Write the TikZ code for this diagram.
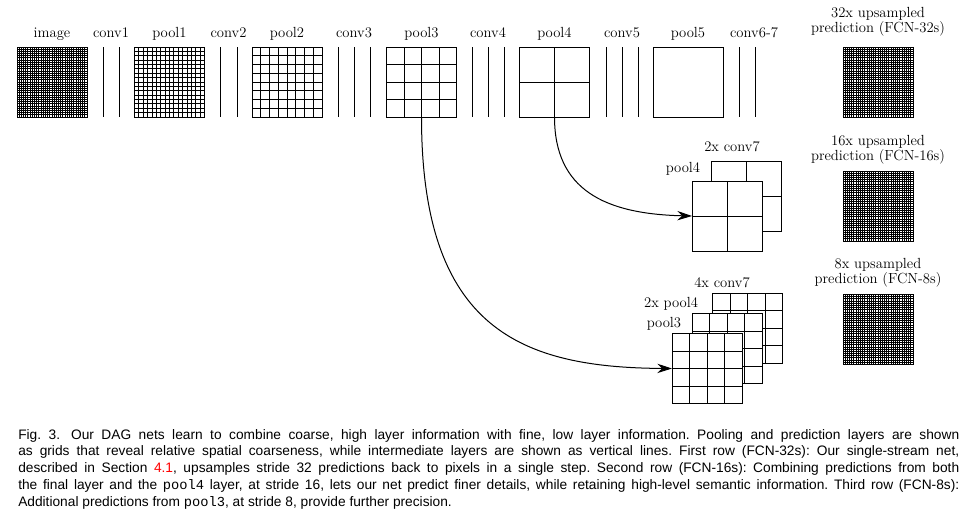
\documentclass[tikz,border=0pt]{standalone}
\usepackage{fontspec}
\setsansfont{Liberation Sans}
\setmonofont{Liberation Mono}
\usepackage{xcolor}
\usetikzlibrary{calc,arrows.meta}
\newcommand\layersize{52.5pt}

% grid lines inside a layer node: [style]{node}{cells}
\newcommand\gridlines[3][gridline]{%
  \pgfmathtruncatemacro\lastk{#3-1}%
  \foreach \k in {1,...,\lastk}{%
    \draw[#1] ($(#2.north west)!\k/#3!(#2.north east)$) -- ($(#2.south west)!\k/#3!(#2.south east)$);
    \draw[#1] ($(#2.north west)!\k/#3!(#2.south west)$) -- ($(#2.north east)!\k/#3!(#2.south east)$);
  }}

\tikzset{
  layer/.style={draw, line width=0.75pt, fill=white, inner sep=0pt, outer sep=0pt, minimum size=\layersize},
  gridline/.style={line width=0.6pt},
  denseline/.style={line width=0.75pt},
  convline/.style={line width=0.75pt},
  lbl/.style={anchor=base, inner sep=0pt, font=\fontsize{11}{11}\selectfont},
  skiparrow/.style={line width=0.75pt, -{Stealth[length=11pt,width=7pt]}},
}

\begin{document}
\begin{tikzpicture}[x=0.75pt, y=-0.75pt]
        \useasboundingbox (0,0) rectangle (970,512);

        % first row
        \node[layer] (image) at (52, 82) {};
        \node[layer] (pool1) at (169.5, 82) {};
        \node[layer] (pool2) at (287, 82) {};
        \node[layer] (pool3) at (421.5, 82) {};
        \node[layer] (pool4) at (554.5, 82) {};
        \node[layer] (pool5) at (688, 82) {};
        \node[layer] (out32) at (878, 82) {};
        \gridlines[denseline]{image}{32}
        \gridlines{pool1}{16}
        \gridlines{pool2}{8}
        \gridlines{pool3}{4}
        \gridlines{pool4}{2}
        \gridlines[denseline]{out32}{32}
        \foreach \x in {103,119, 220,237, 338,354,370, 472,488,504, 606,622,638, 739,755}
            \draw[convline] (\x, 47) -- (\x, 117);

        \node[lbl] (limage) at (52, 37.5) {image};
        \node[lbl] (lconv1) at (111, 37.5) {conv1};
        \node[lbl] (lpool1) at (169.5, 37.5) {pool1};
        \node[lbl] (lconv2) at (228.5, 37.5) {conv2};
        \node[lbl] (lpool2) at (287, 37.5) {pool2};
        \node[lbl] (lconv3) at (354, 37.5) {conv3};
        \node[lbl] (lpool3) at (421.5, 37.5) {pool3};
        \node[lbl] (lconv4) at (488, 37.5) {conv4};
        \node[lbl] (lpool4) at (554.5, 37.5) {pool4};
        \node[lbl] (lconv5) at (622, 37.5) {conv5};
        \node[lbl] (lpool5) at (688, 37.5) {pool5};
        \node[lbl] (lconv67) at (754, 37.5) {conv6-7};
        \node[lbl, align=center] (lout32) at (878, 32) {32x upsampled\\prediction (FCN-32s)};

        % second row
        \node[layer] (conv7b) at (746.5, 196) {};
        \gridlines{conv7b}{2}
        \node[layer] (pool4b) at (727, 216) {};
        \gridlines{pool4b}{2}
        \node[layer] (out16) at (878, 206) {};
        \gridlines[denseline]{out16}{32}
        \node[lbl] (lconv7b) at (732, 151) {2x conv7};
        \node[lbl] (lpool4b) at (683, 172) {pool4};
        \node[lbl, align=center] (lout16) at (878, 160) {16x upsampled\\prediction (FCN-16s)};

        % third row
        \node[layer] (conv7c) at (747.5, 328) {};
        \gridlines{conv7c}{4}
        \node[layer] (pool4c) at (727, 348.5) {};
        \gridlines{pool4c}{4}
        \node[layer] (pool3c) at (707, 368.5) {};
        \gridlines{pool3c}{4}
        \node[layer] (out8) at (878, 329.5) {};
        \gridlines[denseline]{out8}{32}
        \node[lbl] (lconv7c) at (722, 287) {4x conv7};
        \node[lbl] (lpool4c) at (671, 307) {2x pool4};
        \node[lbl] (lpool3c) at (664, 327) {pool3};
        \node[lbl, align=center] (lout8) at (878, 283) {8x upsampled\\prediction (FCN-8s)};

        % skips
        \draw[skiparrow] (pool4.south) .. controls +(0, 73) and +(-87, -2) .. (pool4b.west);
        \draw[skiparrow] (pool3.south) .. controls +(0, 213) and +(-150, -1) .. (pool3c.west);

        % caption
        \node[anchor=base west, inner sep=0pt, text width=705.75pt, align=justify,
              font=\sffamily\fontsize{10.3}{12.6}\selectfont\frenchspacing] (caption) at (18, 439)
        {Fig.\ 3.\hspace{0.8em}Our DAG nets learn to combine coarse, high layer information with fine, low layer information. Pooling and prediction layers are shown\linebreak
        as grids that reveal relative spatial coarseness, while intermediate layers are shown as vertical lines. First row (FCN-32s): Our single-stream net,\linebreak
        described in Section \textcolor{red}{4.1}, upsamples stride 32 predictions back to pixels in a single step. Second row (FCN-16s): Combining predictions from both\linebreak
        the final layer and the \texttt{pool4} layer, at stride 16, lets our net predict finer details, while retaining high-level semantic information. Third row (FCN-8s):\linebreak
        Additional predictions from \texttt{pool3}, at stride 8, provide further precision.};
    \end{tikzpicture}
\end{document}
